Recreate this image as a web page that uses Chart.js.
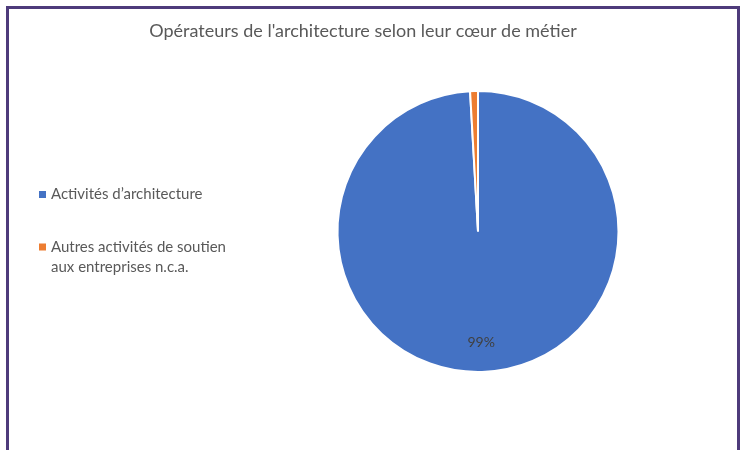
<!DOCTYPE html>
<html>
<head>
<meta charset="utf-8">
<script src="https://cdn.jsdelivr.net/npm/chart.js@4"></script>
<style>
  html, body { margin: 0; padding: 0; background: #fff; overflow: hidden; }
  #frame {
    position: absolute; left: 6px; top: 6px;
    width: 728px; height: 450px;
    border: 3px solid #4e3b7b;
    background: #fff;
  }
  #frame canvas { display: block; }
</style>
</head>
<body>
<div id="frame">
  <canvas id="myChart" width="728" height="441"></canvas>
</div>
<script>
var chartTitle = "Opérateurs de l'architecture selon leur cœur de métier";
var categories = [
    ['Activités d’architecture'],
    ['Autres activités de soutien', 'aux entreprises n.c.a.']
];
var shares = [99.1, 0.9]; // % des opérateurs
var sliceColors = ['#4472C4', '#ED7D31'];

var textColor = '#595959';
var fontFamily = 'Lato, "Liberation Sans", sans-serif';

// titre centre sur tout le cadre (pas seulement sur le camembert)
var frameTitle = {
    id: 'frameTitle',
    afterDraw: function (chart) {
        var ctx = chart.ctx;
        ctx.save();
        ctx.font = '18px ' + fontFamily;
        ctx.fillStyle = textColor;
        ctx.textAlign = 'center';
        ctx.textBaseline = 'middle';
        ctx.fillText(chartTitle, 354, 22);
        ctx.restore();
    }
};

// legende dessinee a la main (texte sur deux lignes)
var sideLegend = {
    id: 'sideLegend',
    afterDraw: function (chart) {
        var ctx = chart.ctx;
        var tops = [185.5, 238];
        ctx.save();
        ctx.font = '15px ' + fontFamily;
        ctx.textBaseline = 'middle';
        ctx.textAlign = 'left';
        categories.forEach(function (lines, i) {
            var y = tops[i];
            ctx.fillStyle = sliceColors[i];
            ctx.fillRect(30, y - 3.5, 7, 7);
            ctx.fillStyle = textColor;
            lines.forEach(function (line, k) {
                ctx.fillText(line, 42, y + k * 20);
            });
        });
        ctx.restore();
    }
};

// etiquettes de pourcentage dans les parts
var pctLabels = {
    id: 'pctLabels',
    afterDatasetsDraw: function (chart) {
        var ctx = chart.ctx;
        var meta = chart.getDatasetMeta(0);
        ctx.save();
        ctx.font = '14px ' + fontFamily;
        ctx.fillStyle = '#404040';
        ctx.textAlign = 'center';
        ctx.textBaseline = 'middle';
        meta.data.forEach(function (arc, i) {
            if (shares[i] < 5) return; // petite part sans etiquette
            var p = arc.getProps(['x', 'y', 'startAngle', 'endAngle', 'outerRadius'], true);
            var mid = (p.startAngle + p.endAngle) / 2;
            var r = p.outerRadius * 0.79;
            ctx.fillText(Math.round(shares[i]) + '%', p.x + Math.cos(mid) * r, p.y + Math.sin(mid) * r);
        });
        ctx.restore();
    }
};

var ctx = document.getElementById('myChart').getContext('2d');
var myChart = new Chart(ctx, {
    type: 'pie',
    data: {
        labels: categories,
        datasets: [{
            data: shares,
            backgroundColor: sliceColors,
            borderColor: '#ffffff',
            borderWidth: 2
        }]
    },
    options: {
        responsive: false,
        animation: false,
        events: [],
        layout: {
            padding: { left: 327, right: 117, top: 81, bottom: 77 }
        },
        plugins: {
            legend: { display: false },
            tooltip: { enabled: false },
            title: { display: false }
        }
    },
    plugins: [frameTitle, sideLegend, pctLabels]
});
</script>
</body>
</html>
